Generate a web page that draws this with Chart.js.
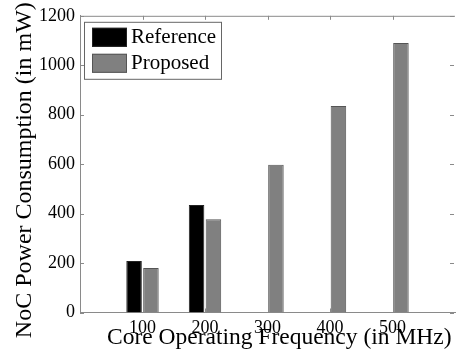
<!DOCTYPE html>
<html>
<head>
<meta charset="utf-8">
<script src="https://cdn.jsdelivr.net/npm/chart.js@4"></script>
<style>
  html, body { margin: 0; padding: 0; background: #fff; }
  #wrap { width: 460px; height: 356px; }
</style>
</head>
<body>
<div id="wrap"><canvas id="chart-canvas"></canvas></div>
<script>
const frequencies = [100, 200, 300, 400, 500];
const reference = [208, 435, null, null, null];
const proposed = [180, 377, 598, 835, 1090];
const seriesNames = ["Reference", "Proposed"];
const yMax = 1200;
const yStep = 200;

const toPoints = (values) => {
  return values.map((v, i) => ({ x: frequencies[i], y: v }));
};

const serif = '"Liberation Serif", "DejaVu Serif", serif';
const axisGrey = "#8a8a8a";
Chart.defaults.font.family = serif;
Chart.defaults.color = "#000";

// top line of the box and the small inward ticks, like matlab does
// (the right edge of the box falls just outside the picture)
const frameTicks = {
  id: "frameTicks",
  afterDatasetsDraw(chart) {
    const { ctx, chartArea: a, scales } = chart;
    const len = 4;
    ctx.save();
    ctx.strokeStyle = axisGrey;
    ctx.lineWidth = 1;
    ctx.beginPath();
    ctx.moveTo(a.left, a.top + 0.5);
    ctx.lineTo(a.right, a.top + 0.5);
    frequencies.forEach((f) => {
      const x = Math.round(scales.x.getPixelForValue(f)) + 0.5;
      ctx.moveTo(x, a.top);
      ctx.lineTo(x, a.top + len);
      ctx.moveTo(x, a.bottom);
      ctx.lineTo(x, a.bottom - len);
    });
    for (let v = 0; v <= yMax; v += yStep) {
      const y = Math.round(scales.y.getPixelForValue(v)) + 0.5;
      ctx.moveTo(a.left, y);
      ctx.lineTo(a.left + len, y);
      ctx.moveTo(a.right - 1, y);
      ctx.lineTo(a.right - 1 - len, y);
    }
    ctx.stroke();
    ctx.restore();
  },
};

// legend sitting inside the top-left corner of the plot
const boxLegend = {
  id: "boxLegend",
  afterDraw(chart) {
    const { ctx, chartArea: a } = chart;
    const x0 = a.left + 4;
    const y0 = a.top + 6;
    ctx.save();
    ctx.fillStyle = "#fff";
    ctx.fillRect(x0, y0, 137, 57);
    ctx.strokeStyle = "#666";
    ctx.lineWidth = 1;
    ctx.strokeRect(x0 + 0.5, y0 + 0.5, 137, 57);
    ctx.font = "21px " + serif;
    ctx.textBaseline = "middle";
    chart.data.datasets.forEach((ds, i) => {
      const y = y0 + 6 + i * 26;
      ctx.fillStyle = ds.backgroundColor;
      ctx.fillRect(x0 + 8, y, 35, 19);
      ctx.strokeStyle = ds.borderColor;
      ctx.strokeRect(x0 + 8.5, y + 0.5, 34, 18);
      ctx.fillStyle = "#000";
      ctx.fillText(ds.label, x0 + 47, y + 10);
    });
    ctx.restore();
  },
};

let ctx = document.getElementById("chart-canvas");

let power_chart = new Chart(ctx, {
  type: "bar",
  data: {
    datasets: [
      {
        label: seriesNames[0],
        data: toPoints(reference),
        backgroundColor: "#000000",
        borderColor: "#222222",
        borderWidth: 1,
      },
      {
        label: seriesNames[1],
        data: toPoints(proposed),
        backgroundColor: "#808080",
        borderColor: "#555555",
        borderWidth: 1,
      },
    ],
  },
  options: {
    responsive: true,
    maintainAspectRatio: false,
    animation: false,
    datasets: {
      bar: { categoryPercentage: 0.54, barPercentage: 0.92 },
    },
    layout: { padding: { top: 13, left: 0, right: 0, bottom: 0 } },
    plugins: {
      legend: { display: false },
      tooltip: { enabled: false },
    },
    scales: {
      x: {
        type: "linear",
        offset: false,
        min: 0,
        max: 600,
        grid: { display: false, drawTicks: false },
        border: { display: true, color: axisGrey, width: 1 },
        ticks: {
          stepSize: 100,
          padding: 5,
          color: "#000",
          font: { family: serif, size: 18 },
          callback: (v) => (frequencies.includes(v) ? String(v) : ""),
        },
        title: {
          display: true,
          // leading spaces push the title a bit right, as in the original
          text: "    Core Operating Frequency (in MHz)",
          color: "#000",
          font: { family: serif, size: 23.5 },
          padding: { top: 0, bottom: 4 },
        },
        afterFit: (scale) => {
          scale.height = 43.5;
        },
      },
      y: {
        min: 0,
        max: yMax,
        grid: { display: false, drawTicks: false },
        border: { display: true, color: axisGrey, width: 1 },
        ticks: {
          stepSize: yStep,
          padding: 5,
          color: "#000",
          font: { family: serif, size: 18 },
          callback: (v) => String(v),
        },
        title: {
          display: true,
          text: "NoC Power Consumption (in mW)  ",
          color: "#000",
          font: { family: serif, size: 24 },
          padding: { top: 10, bottom: 0 },
        },
        afterFit: (scale) => {
          scale.width = 80;
        },
      },
    },
  },
  plugins: [frameTicks, boxLegend],
});
</script>
</body>
</html>
